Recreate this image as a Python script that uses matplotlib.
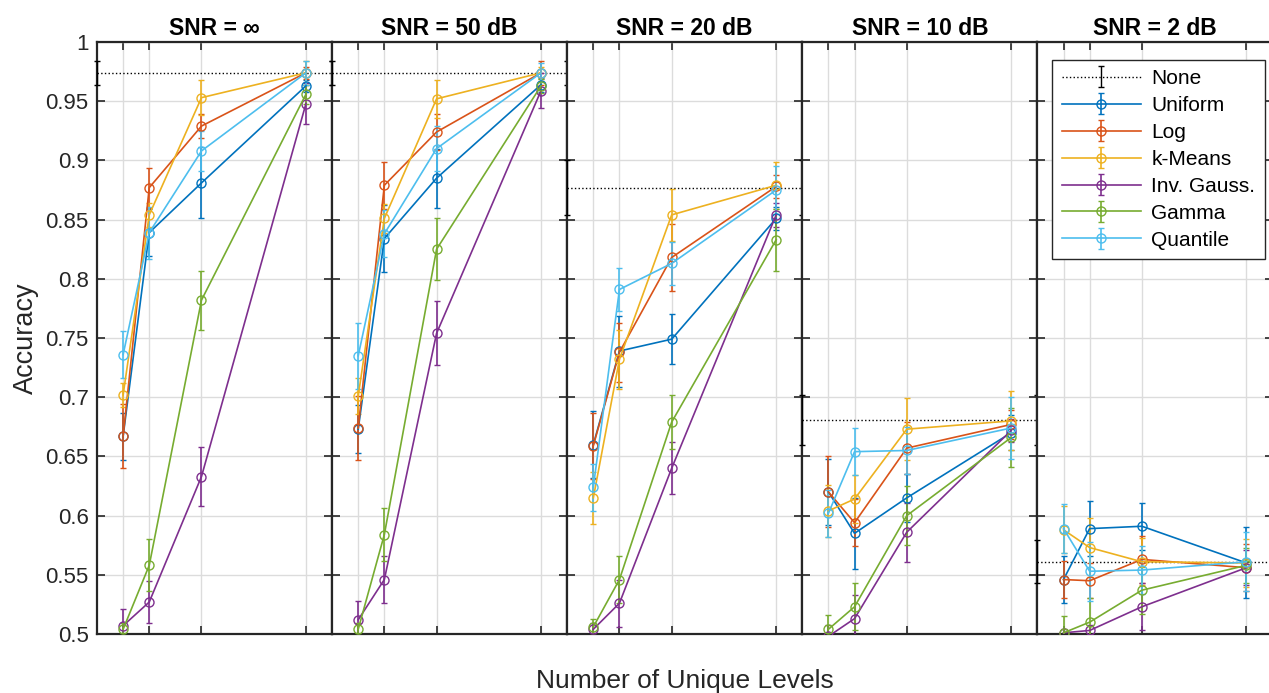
import numpy as np
import matplotlib
matplotlib.use("Agg")
import matplotlib.pyplot as plt

plt.rcParams['font.family'] = ['Liberation Sans', 'DejaVu Sans']

levels = [2, 4, 8, 16]
titles = ["SNR = \u221e", "SNR = 50 dB", "SNR = 20 dB", "SNR = 10 dB", "SNR = 2 dB"]
methods = ["Uniform", "Log", "k-Means", "Inv. Gauss.", "Gamma", "Quantile"]
colors = ["#0072BD", "#D95319", "#EDB120", "#7E2F8E", "#77AC30", "#4DBEEE"]

# baseline (no quantisation), one value per SNR panel
none_acc = [0.974, 0.974, 0.877, 0.681, 0.561]
none_err = [0.010, 0.010, 0.023, 0.021, 0.018]

# rows = SNR panels, columns = levels
uniform_acc = [[0.667, 0.839, 0.881, 0.963],
               [0.673, 0.834, 0.885, 0.964],
               [0.660, 0.739, 0.749, 0.851],
               [0.620, 0.585, 0.615, 0.670],
               [0.546, 0.589, 0.591, 0.560]]
uniform_err = [[0.020, 0.020, 0.030, 0.005],
               [0.020, 0.028, 0.025, 0.006],
               [0.028, 0.030, 0.021, 0.010],
               [0.028, 0.030, 0.020, 0.015],
               [0.020, 0.023, 0.020, 0.030]]

log_acc = [[0.667, 0.877, 0.929, 0.974],
           [0.674, 0.879, 0.924, 0.974],
           [0.659, 0.738, 0.818, 0.878],
           [0.620, 0.594, 0.657, 0.677],
           [0.546, 0.545, 0.563, 0.556]]
log_err = [[0.027, 0.017, 0.010, 0.005],
           [0.027, 0.020, 0.015, 0.010],
           [0.028, 0.025, 0.028, 0.010],
           [0.030, 0.020, 0.022, 0.012],
           [0.016, 0.015, 0.020, 0.020]]

kmeans_acc = [[0.702, 0.854, 0.953, 0.974],
              [0.701, 0.851, 0.952, 0.974],
              [0.615, 0.732, 0.854, 0.879],
              [0.604, 0.614, 0.673, 0.680],
              [0.588, 0.573, 0.561, 0.560]]
kmeans_err = [[0.010, 0.010, 0.015, 0.010],
              [0.015, 0.012, 0.016, 0.005],
              [0.022, 0.025, 0.022, 0.020],
              [0.022, 0.020, 0.026, 0.025],
              [0.020, 0.025, 0.020, 0.020]]

invgauss_acc = [[0.507, 0.527, 0.633, 0.948],
                [0.512, 0.546, 0.754, 0.959],
                [0.504, 0.526, 0.640, 0.854],
                [0.498, 0.513, 0.586, 0.672],
                [0.501, 0.503, 0.523, 0.556]]
invgauss_err = [[0.014, 0.018, 0.025, 0.017],
                [0.016, 0.020, 0.027, 0.015],
                [0.005, 0.020, 0.022, 0.010],
                [0.010, 0.020, 0.025, 0.010],
                [0.003, 0.005, 0.020, 0.015]]

gamma_acc = [[0.504, 0.558, 0.782, 0.956],
             [0.504, 0.584, 0.825, 0.963],
             [0.506, 0.546, 0.679, 0.833],
             [0.504, 0.523, 0.600, 0.666],
             [0.501, 0.510, 0.537, 0.558]]
gamma_err = [[0.005, 0.022, 0.025, 0.008],
             [0.005, 0.022, 0.026, 0.006],
             [0.007, 0.020, 0.023, 0.026],
             [0.012, 0.020, 0.025, 0.025],
             [0.014, 0.020, 0.020, 0.015]]

quantile_acc = [[0.736, 0.839, 0.908, 0.974],
                [0.735, 0.838, 0.910, 0.974],
                [0.624, 0.791, 0.813, 0.875],
                [0.602, 0.654, 0.655, 0.674],
                [0.589, 0.553, 0.554, 0.561]]
quantile_err = [[0.020, 0.022, 0.017, 0.010],
                [0.028, 0.020, 0.019, 0.008],
                [0.020, 0.018, 0.018, 0.020],
                [0.020, 0.020, 0.020, 0.026],
                [0.021, 0.025, 0.020, 0.025]]

all_acc = [uniform_acc, log_acc, kmeans_acc, invgauss_acc, gamma_acc, quantile_acc]
all_err = [uniform_err, log_err, kmeans_err, invgauss_err, gamma_err, quantile_err]

fig = plt.figure(figsize=(12.69, 6.93), dpi=100)
left = 97 / 1269
w = 235.1 / 1269
bottom = 1 - 634 / 693
h = (634 - 42) / 693
spine_col = "#262626"

axes = []
for p in range(5):
    ax = fig.add_axes([left + p * w, bottom, w, h])
    axes.append(ax)
    ax.set_xlim(0, 18)
    ax.set_ylim(0.5, 1.0)
    ax.set_xticks(levels)
    ax.set_xticklabels([])
    ax.set_yticks(np.arange(0.5, 1.001, 0.05))
    if p == 0:
        ax.set_yticklabels(["0.5", "0.55", "0.6", "0.65", "0.7", "0.75", "0.8",
                            "0.85", "0.9", "0.95", "1"], fontsize=16)
        ax.set_ylabel("Accuracy", fontsize=19.5, labelpad=5, color=spine_col)
    else:
        ax.set_yticklabels([])
    ax.tick_params(direction="in", top=True, right=True, length=6, width=1.2,
                   colors=spine_col, labelcolor="#262626", pad=6)
    ax.grid(True, color="#dcdcdc", linewidth=1.0)
    ax.set_axisbelow(True)
    for s in ax.spines.values():
        s.set_color(spine_col)
        s.set_linewidth(1.6)
    ax.set_title(titles[p], fontsize=16.5, fontweight="bold", pad=5)

    # baseline line with error bars at the panel edges
    ax.errorbar([0, 18], [none_acc[p]] * 2, yerr=none_err[p], fmt=":",
                color="black", linewidth=1.0, elinewidth=1.0, capsize=2,
                label="None", clip_on=False, zorder=3)
    for m in range(len(methods)):
        ax.errorbar(levels, all_acc[m][p], yerr=all_err[m][p], fmt="-o",
                    color=colors[m], markerfacecolor="none", markersize=6.5,
                    markeredgewidth=1.0, linewidth=1.2, elinewidth=1.2,
                    capsize=2, label=methods[m], zorder=4)

leg = axes[4].legend(loc="upper left", bbox_to_anchor=(0.063, 0.97), fontsize=15,
                     handlelength=3.8, handletextpad=0.5, labelspacing=0.38,
                     borderpad=0.45, borderaxespad=0,
                     fancybox=False, framealpha=1, edgecolor="#262626")
leg.get_frame().set_linewidth(1.0)

fig.text(left + 2.5 * w, 0.0, "Number of Unique Levels", ha="center",
         va="bottom", fontsize=19, color="#262626")

fig.savefig("out.png", dpi=100)
